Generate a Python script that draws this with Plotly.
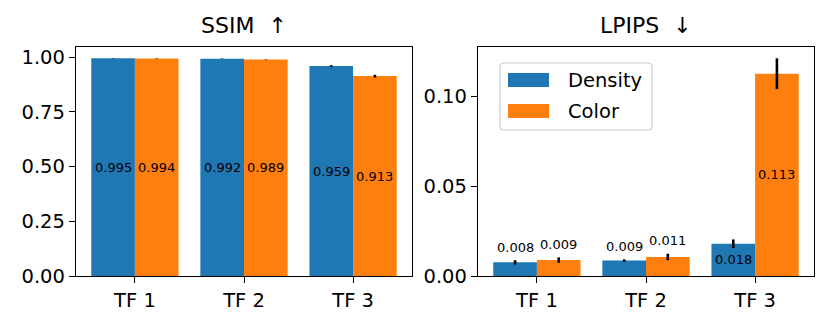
import plotly.graph_objects as go
from plotly.subplots import make_subplots

# Data
categories = ["TF 1", "TF 2", "TF 3"]
series_names = ["Density", "Color"]
colors = ["#1f77b4", "#ff7f0e"]

ssim_density = [0.995, 0.992, 0.959]
ssim_color = [0.994, 0.989, 0.913]
ssim_density_err = [0.001, 0.001, 0.004]
ssim_color_err = [0.001, 0.001, 0.006]

lpips_density = [0.0076, 0.0086, 0.0180]
lpips_color = [0.0089, 0.0106, 0.1128]
lpips_density_err = [0.0012, 0.0007, 0.0024]
lpips_color_err = [0.0015, 0.0018, 0.0086]

FONT = "DejaVu Sans"
# the page body has an 8px margin, so the figure is sized to fit inside the window
PAD = 8
W, H = 830 - PAD, 327 - PAD


def px(x, y):
    """window pixel -> paper coords"""
    return (x - PAD) / W, 1 - (y - PAD) / H


fig = make_subplots(rows=1, cols=2)

x_idx = list(range(len(categories)))
panels = [
    (1, [ssim_density, ssim_color], [ssim_density_err, ssim_color_err]),
    (2, [lpips_density, lpips_color], [lpips_density_err, lpips_color_err]),
]

for col, vals, errs in panels:
    for k in range(2):
        fig.add_trace(go.Bar(
            x=x_idx, y=vals[k], name=series_names[k],
            marker=dict(color=colors[k], line=dict(width=0)),
            error_y=dict(type="data", array=errs[k], color="black",
                         thickness=2.6, width=0),
            showlegend=False,
        ), row=1, col=col)

    # value labels
    for k in range(2):
        off = -0.2 if k == 0 else 0.2
        for i, (v, e) in enumerate(zip(vals[k], errs[k])):
            if col == 1 or v > 0.015:
                ypos = v / 2
            else:
                ypos = v + e + 0.0072
            fig.add_annotation(
                x=i + off, y=ypos, text=f"{v:.3f}", showarrow=False,
                xref=f"x{col if col > 1 else ''}", yref=f"y{col if col > 1 else ''}",
                xanchor="center", yanchor="middle",
                font=dict(family=FONT, size=13, color="black"),
            )

# axes geometry
x1 = [px(76, 0)[0], px(412, 0)[0]]
x2 = [px(478, 0)[0], px(814, 0)[0]]
yd = [px(0, 276)[1], px(0, 47)[1]]

axis_common = dict(showline=True, linecolor="black", linewidth=1.3, mirror=True,
                   ticks="outside", ticklen=6, tickwidth=1.2, tickcolor="black",
                   showgrid=False, zeroline=False, automargin=False,
                   tickfont=dict(family=FONT, size=19.5, color="black"))

fig.update_xaxes(**axis_common, range=[-0.54, 2.54], tickvals=x_idx, ticktext=categories)
fig.update_yaxes(**axis_common)
fig.update_layout(
    xaxis=dict(domain=x1), xaxis2=dict(domain=x2),
    yaxis=dict(domain=yd, range=[0, 1.046], tickvals=[0, 0.25, 0.5, 0.75, 1.0], tickformat=".2f"),
    yaxis2=dict(domain=yd, range=[0, 0.1277], tickvals=[0, 0.05, 0.10], tickformat=".2f"),
)

# titles
for xs, title in [(x1, "SSIM  ↑"), (x2, "LPIPS  ↓")]:
    fig.add_annotation(x=(xs[0] + xs[1]) / 2, y=yd[1], xref="paper", yref="paper",
                       xanchor="center", yanchor="bottom", yshift=7, showarrow=False,
                       text=title, font=dict(family=FONT, size=22, color="black"))

# legend (drawn in the right panel, matplotlib-like)
lx0, ly0 = px(500, 63)
lx1, ly1 = px(652, 130)
r = 4
rx, ry = r / W, r / H
path = (f"M {lx0 + rx},{ly0} L {lx1 - rx},{ly0} Q {lx1},{ly0} {lx1},{ly0 - ry} "
        f"L {lx1},{ly1 + ry} Q {lx1},{ly1} {lx1 - rx},{ly1} L {lx0 + rx},{ly1} "
        f"Q {lx0},{ly1} {lx0},{ly1 + ry} L {lx0},{ly0 - ry} Q {lx0},{ly0} {lx0 + rx},{ly0} Z")
fig.add_shape(type="path", path=path, xref="paper", yref="paper",
              line=dict(color="#cccccc", width=1.2), fillcolor="rgba(255,255,255,0.8)")
for k, yc in enumerate([80, 111]):
    a0, b0 = px(508, yc - 7)
    a1, b1 = px(549, yc + 7)
    fig.add_shape(type="rect", x0=a0, x1=a1, y0=b1, y1=b0, xref="paper", yref="paper",
                  line=dict(width=0), fillcolor=colors[k])
    tx, ty = px(566, yc)
    fig.add_annotation(x=tx, y=ty, xref="paper", yref="paper", xanchor="left",
                       yanchor="middle", showarrow=False, text=series_names[k],
                       font=dict(family=FONT, size=19.5, color="black"))

fig.update_layout(
    width=W, height=H, margin=dict(l=0, r=0, t=0, b=0),
    plot_bgcolor="white", paper_bgcolor="white",
    barmode="group", bargap=0.2, bargroupgap=0,
    showlegend=False,
)

fig.write_html("out.html")
